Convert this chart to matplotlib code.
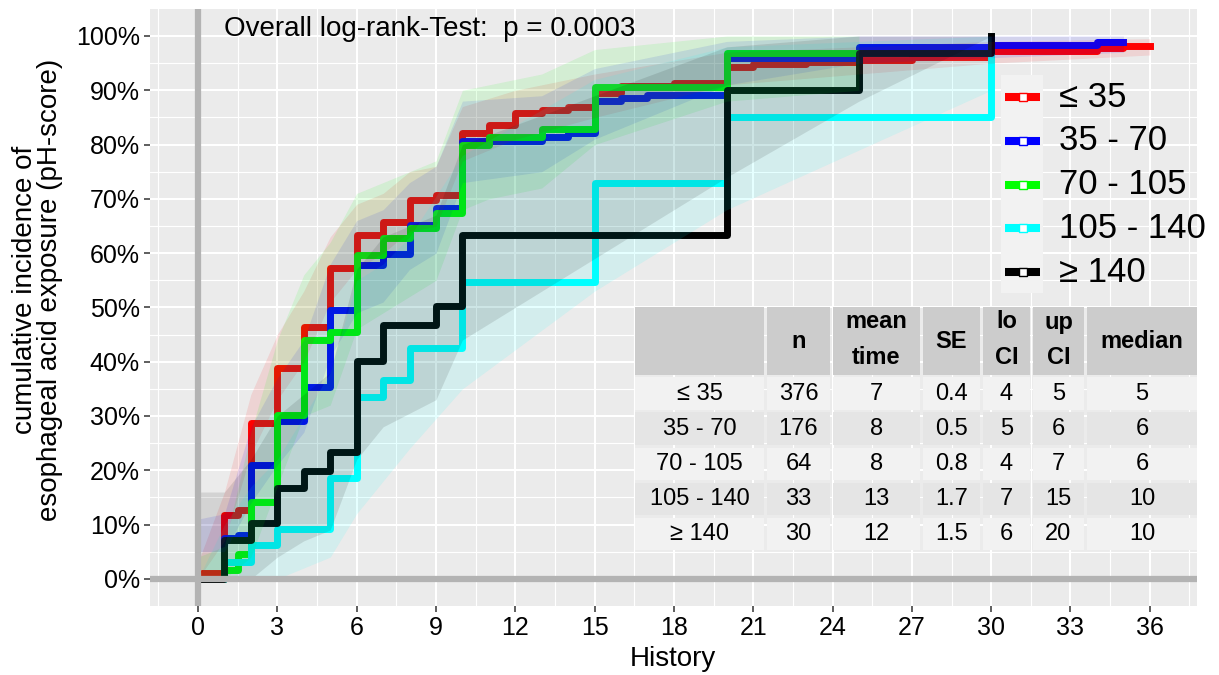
import numpy as np
import matplotlib
matplotlib.use("Agg")
import matplotlib.pyplot as plt
from matplotlib.lines import Line2D
from matplotlib.patches import Rectangle

plt.rcParams['font.family'] = ['Liberation Sans', 'DejaVu Sans']

# strata
groups = ["≤ 35", "35 - 70", "70 - 105", "105 - 140", "≥ 140"]
colors = ["#FF0000", "#0000FF", "#00FF00", "#00FFFF", "#000000"]

# cumulative incidence steps (time, percent)
t_le35 = [0, 0.15, 1, 1.5, 2, 3, 4, 5, 6, 7, 8, 9, 10, 11, 12, 13, 14, 15, 16, 18, 20, 21, 23, 25, 27, 30, 34, 35, 36]
y_le35 = [0, 1.1, 11.8, 12.7, 28.7, 38.8, 46.4, 57.3, 63.4, 65.8, 69.8, 70.8, 82.1, 83.6, 85.8, 86.4, 86.9, 89.5, 90.8, 91.4, 94.3, 94.9, 95.2, 95.5, 96.1, 97.2, 97.7, 98.2, 98.2]
t_35_70 = [0, 1, 1.5, 2, 3, 4, 5, 6, 7, 8, 9, 10, 13, 14, 15, 16, 17, 20, 25, 30, 34, 35]
y_35_70 = [0, 7.5, 8.1, 21.0, 29.0, 35.4, 49.5, 57.8, 59.8, 65.2, 68.3, 80.7, 81.4, 82.2, 88.0, 88.6, 89.1, 96.0, 98.0, 98.3, 98.9, 98.9]
t_70_105 = [0, 1, 1.5, 2, 3, 4, 5, 6, 7, 8, 9, 10, 11, 13, 15, 20, 25]
y_70_105 = [0, 1.6, 4.6, 14.2, 30.2, 44.0, 45.5, 59.7, 62.7, 64.6, 67.4, 79.9, 81.4, 82.9, 90.6, 96.8, 96.8]
t_105_140 = [0, 1, 2, 3, 5, 6, 7, 8, 10, 15, 20, 30]
y_105_140 = [0, 3.1, 6.2, 9.2, 18.6, 33.5, 36.6, 42.5, 54.6, 72.9, 85.0, 100]
t_ge140 = [0, 1, 2, 3, 4, 5, 6, 7, 9, 10, 20, 25, 30]
y_ge140 = [0, 7.2, 10.3, 16.8, 19.8, 23.4, 40.2, 46.8, 50.2, 63.4, 90.0, 96.8, 100]

# confidence bands (time, lower, upper in percent)
ci_t_le35 = [0, 1, 2, 3, 4, 5, 6, 7, 8, 9, 10, 12, 15, 20, 25, 30, 36]
ci_lo_le35 = [0, 7, 23, 33, 40, 51, 57, 60, 64, 65, 77, 81, 85, 91, 93, 95, 96.5]
ci_hi_le35 = [3, 16, 34, 45, 53, 63, 69, 71, 75, 76, 87, 90, 93, 97, 98, 99, 99.5]
ci_t_35_70 = [0, 1, 2, 3, 4, 5, 6, 7, 8, 9, 10, 13, 15, 20, 25, 30, 35]
ci_lo_35_70 = [5, 5, 14, 21, 27, 41, 49, 51, 57, 60, 73, 75, 81, 91, 95, 96, 97]
ci_hi_35_70 = [11, 12, 28, 37, 44, 58, 66, 68, 73, 76, 88, 89, 94, 99, 100, 100, 100]
ci_t_70_105 = [0, 1, 2, 3, 4, 5, 6, 7, 8, 9, 10, 11, 13, 15, 20, 25]
ci_lo_70_105 = [0, 0, 4, 17, 30, 32, 46, 49, 52, 55, 68, 70, 72, 80, 88, 90]
ci_hi_70_105 = [4, 6, 27, 44, 56, 62, 71, 73, 75, 77, 90, 91, 93, 97.5, 100, 100]
ci_t_105_140 = [0, 1, 2, 3, 5, 6, 7, 8, 10, 15, 20, 30]
ci_lo_105_140 = [0, 0, 0, 0, 4, 12, 18, 24, 35, 53, 68, 90]
ci_hi_105_140 = [0, 10, 17, 22, 38, 55, 58, 63, 78, 92, 98, 100]
ci_t_ge140 = [0, 1, 2, 3, 4, 5, 6, 7, 9, 10, 20, 25, 30]
ci_lo_ge140 = [0, 0, 0, 4, 7, 9, 22, 28, 33, 44, 74, 88, 100]
ci_hi_ge140 = [16, 16, 22, 30, 34, 38, 57, 63, 67, 80, 98, 100, 100]

# summary table
table_head = ["", "n", "mean\ntime", "SE", "lo\nCI", "up\nCI", "median"]
tab_n = [376, 176, 64, 33, 30]
tab_mean = [7, 8, 8, 13, 12]
tab_se = [0.4, 0.5, 0.8, 1.7, 1.5]
tab_lo = [4, 5, 4, 7, 6]
tab_up = [5, 6, 7, 15, 20]
tab_median = [5, 6, 6, 10, 10]

pval_text = "Overall log-rank-Test:  p = 0.0003"

curves = [(t_le35, y_le35), (t_35_70, y_35_70), (t_70_105, y_70_105),
          (t_105_140, y_105_140), (t_ge140, y_ge140)]
bands = [(ci_t_le35, ci_lo_le35, ci_hi_le35), (ci_t_35_70, ci_lo_35_70, ci_hi_35_70),
         (ci_t_70_105, ci_lo_70_105, ci_hi_70_105), (ci_t_105_140, ci_lo_105_140, ci_hi_105_140),
         (ci_t_ge140, ci_lo_ge140, ci_hi_ge140)]

W, H = 1219, 675


def fx(px):
    return px / W


def fy(py):
    return 1 - py / H


fig = plt.figure(figsize=(W / 100, H / 100), dpi=100)
ax = fig.add_axes([fx(150.4), fy(606), (1197.4 - 150.4) / W, (606 - 8.85) / H])
ax.set_facecolor("#EBEBEB")

for (t, y), c in zip(curves, colors):
    ax.step(t, y, where='post', color=c, lw=5, solid_joinstyle='round', zorder=2)

for (t, lo, hi), c in zip(bands, colors):
    ax.fill_between(t, lo, hi, color=c, alpha=0.1, lw=0, zorder=3)

ax.axhline(0, color="#B3B3B3", lw=4.5, zorder=4)
ax.axvline(0, color="#B3B3B3", lw=4.5, zorder=4)

ax.text(1.0, 100, pval_text, fontsize=20, va='baseline', ha='left', zorder=5)

ax.set_xlim(-1.8, 37.8)
ax.set_ylim(-5, 105)
ax.set_xticks(np.arange(0, 37, 3))
ax.set_xticks(np.arange(-1.5, 38, 3), minor=True)
ax.set_yticks(np.arange(0, 101, 10))
ax.set_yticks(np.arange(5, 100, 10), minor=True)
ax.set_yticklabels([f"{v}%" for v in range(0, 101, 10)])
ax.grid(which='major', color='white', lw=1.5)
ax.grid(which='minor', color='white', lw=0.8)
ax.set_axisbelow(True)
for s in ax.spines.values():
    s.set_visible(False)
ax.tick_params(which='major', length=4, width=1.1, color="#333333", labelsize=18, labelcolor="black")
ax.tick_params(which='minor', length=0)

fig.text(fx(673), fy(659), "History", fontsize=20, ha='center', va='center')
fig.text(fx(38), fy(290), "cumulative incidence of\nesophageal acid exposure (pH-score)",
         fontsize=20, rotation=90, ha='center', va='center', multialignment='center', linespacing=0.95)

# legend
fig.add_artist(Rectangle((fx(1000.7), fy(293)), (1043.3 - 1000.7) / W, (293 - 75) / H,
                         transform=fig.transFigure, facecolor="#F2F2F2", edgecolor='none'))
leg_y = [97.3, 141, 184.7, 228.3, 272]
for g, c, py in zip(groups, colors, leg_y):
    fig.add_artist(Line2D([fx(1005), fx(1040)], [fy(py), fy(py)], color=c, lw=5.8,
                          solid_capstyle='butt', transform=fig.transFigure))
    fig.add_artist(Line2D([fx(1022.5)], [fy(py)], marker='s', markersize=5.5, markerfacecolor='white',
                          markeredgecolor=c, markeredgewidth=1.0, lw=0, transform=fig.transFigure))
    fig.text(fx(1059), fy(py), g, fontsize=25, ha='left', va='center')

# table
col_edges = [(635, 764), (767, 830), (833, 920), (923, 980), (983, 1030), (1033, 1084), (1087, 1197)]
head_rows = (306.7, 375)
body_rows = [(377.3, 410), (412.3, 445), (447.7, 480), (482.7, 515), (517.7, 550)]
row_fill = ["#F2F2F2", "#E5E5E5"]
tsize = 17

for (x0, x1), lab in zip(col_edges, table_head):
    fig.add_artist(Rectangle((fx(x0), fy(head_rows[1])), (x1 - x0) / W, (head_rows[1] - head_rows[0]) / H,
                             transform=fig.transFigure, facecolor="#CCCCCC", edgecolor='none'))
    lines = lab.split("\n")
    xc = (x0 + x1) / 2
    if len(lines) == 1:
        fig.text(fx(xc), fy(341), lines[0], fontsize=tsize, weight='bold', ha='center', va='center')
    else:
        fig.text(fx(xc), fy(322), lines[0], fontsize=tsize, weight='bold', ha='center', va='center')
        fig.text(fx(xc), fy(358), lines[1], fontsize=tsize, weight='bold', ha='center', va='center')

rows = list(zip(groups, tab_n, tab_mean, tab_se, tab_lo, tab_up, tab_median))
for i, ((y0, y1), row) in enumerate(zip(body_rows, rows)):
    for (x0, x1), val in zip(col_edges, row):
        fig.add_artist(Rectangle((fx(x0), fy(y1)), (x1 - x0) / W, (y1 - y0) / H,
                                 transform=fig.transFigure, facecolor=row_fill[i % 2], edgecolor='none'))
        fig.text(fx((x0 + x1) / 2), fy((y0 + y1) / 2), str(val), fontsize=tsize,
                 ha='center', va='center')

fig.savefig("out.png", dpi=100)
